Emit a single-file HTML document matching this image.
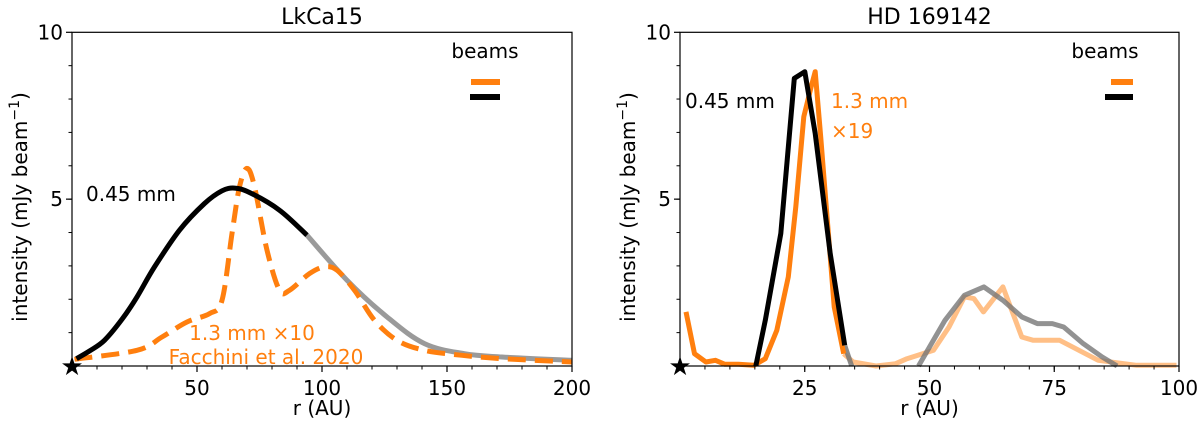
<!DOCTYPE html>
<html><head><meta charset="utf-8"><style>
body{margin:0;background:#fff;}
svg{display:block;font-family:"DejaVu Sans","Liberation Sans",sans-serif;}
</style></head><body>
<svg id="c" width="1200" height="424" xmlns="http://www.w3.org/2000/svg"></svg>
<script>
// LkCa15 data
const lkBlackR=[1.8,7,13,20,26,33,43,53,60,65,71,83,94];
const lkBlackI=[0.22,0.45,0.77,1.4,2.07,2.97,4.07,4.87,5.25,5.33,5.2,4.67,3.92];
const lkGrayR=[94,110,126,141,157,172,200];
const lkGrayI=[3.92,2.57,1.47,0.67,0.37,0.27,0.17];
const lkOrangeR=[1,26,36,46,55,60,64,67,70,73,78,83,87,95,101,106,113,121,130,141,156,172,200];
const lkOrangeI=[0.2,0.47,0.87,1.32,1.57,1.97,3.97,5.37,5.92,5.37,3.47,2.27,2.27,2.77,2.97,2.87,2.27,1.37,0.77,0.47,0.32,0.22,0.12];
// HD 169142 data
const hdBlackR=[15.2,17.1,20.2,22.9,25,27.1,30.1,33];
const hdBlackI=[0,1.37,3.97,8.62,8.82,6.97,3.37,0.62];
const hdGray1R=[33,34.4];
const hdGray1I=[0.62,0];
const hdGray2R=[47.8,53.1,57,60.9,64.7,68.5,71.6,74.6,76.9,80.8,84.6,87.6];
const hdGray2I=[0,1.37,2.12,2.37,1.97,1.47,1.27,1.27,1.17,0.67,0.27,0];
const hdOrangeR=[1.2,2.9,5.2,7.1,9,11.7,14.8,17.1,19.4,21.7,23.2,24.8,26.3,27.1,28.2,30.9,32.8];
const hdOrangeI=[1.62,0.37,0.12,0.17,0.05,0.05,0.02,0.22,1.07,2.67,4.77,7.47,8.37,8.82,6.87,1.77,0.37];
const hdFadeR=[32.8,34.7,39.3,43.2,45.5,50.8,53.9,57,58.9,60.8,64.7,68.5,70.8,76.1,83.8,91.5,99.5];
const hdFadeI=[0.37,0.12,0,0.07,0.22,0.47,1.17,2.07,2.02,1.62,2.37,0.87,0.77,0.77,0.17,0.02,0.02];
const lkTicks=[50,100,150,200];
const hdTicks=[25,50,75,100];
const yTicks=[5,10];

const svg=document.getElementById('c');
const NS='http://www.w3.org/2000/svg';
function mk(tag,attrs,parent){const e=document.createElementNS(NS,tag);for(const k in attrs)e.setAttribute(k,attrs[k]);(parent||svg).appendChild(e);return e;}
function txt(s,attrs,name){const t=mk('text',attrs);t.textContent=s;


return t;}

const Y0=366,Y1=32.3;
function yS(v){return Y0+(Y1-Y0)*v/10;}

function pathD(pts,smooth){
  if(!smooth)return pts.map((p,i)=>(i?'L':'M')+p[0].toFixed(1)+','+p[1].toFixed(1)).join(' ');
  let d='M'+pts[0][0].toFixed(1)+','+pts[0][1].toFixed(1);
  for(let i=0;i<pts.length-1;i++){
    const p0=pts[Math.max(0,i-1)],p1=pts[i],p2=pts[i+1],p3=pts[Math.min(pts.length-1,i+2)];
    const c1=[p1[0]+(p2[0]-p0[0])/6,p1[1]+(p2[1]-p0[1])/6];
    const c2=[p2[0]-(p3[0]-p1[0])/6,p2[1]-(p3[1]-p1[1])/6];
    d+=' C'+c1.map(v=>v.toFixed(1)).join(',')+' '+c2.map(v=>v.toFixed(1)).join(',')+' '+p2.map(v=>v.toFixed(1)).join(',');
  }
  return d;
}

function panel(p){
  const g=mk('g',{});
  
  
  const xS=v=>p.x0+(p.x1-p.x0)*v/p.xmax;
  p.series.forEach(s=>{
    const pts=s.r.map((r,i)=>[xS(r),yS(s.i[i])]);
    const a={d:pathD(pts,p.smooth),fill:'none',stroke:s.c,'stroke-width':s.w||5,'stroke-linejoin':'round',opacity:s.o||1};
    if(s.dash)a['stroke-dasharray']=s.dash;
    const e=mk('path',a,g);
    
    
  });
  const f=mk('rect',{x:p.x0,y:Y1,width:p.x1-p.x0,height:Y0-Y1,fill:'none',stroke:'#000','stroke-width':1.2},g);
  
  
  for(let v=p.minor;v<p.xmax;v+=p.minor){mk('line',{x1:xS(v),x2:xS(v),y1:Y0,y2:Y0+3.5,stroke:'#000','stroke-width':1},g);}
  p.ticks.forEach(v=>{mk('line',{x1:xS(v),x2:xS(v),y1:Y0,y2:Y0+6,stroke:'#000','stroke-width':1.2},g);
    txt(String(v),{x:xS(v),y:Y0+29,'font-size':20,'text-anchor':'middle'},'x-tick-label');});
  for(let v=1;v<10;v++){mk('line',{x1:p.x0,x2:p.x0-3.5,y1:yS(v),y2:yS(v),stroke:'#000','stroke-width':1},g);}
  yTicks.forEach(v=>{mk('line',{x1:p.x0,x2:p.x0-6,y1:yS(v),y2:yS(v),stroke:'#000','stroke-width':1.2},g);
    txt(String(v),{x:p.x0-9,y:yS(v)+7,'font-size':20,'text-anchor':'end'},'y-tick-label');});
  txt('r (AU)',{x:(p.x0+p.x1)/2,y:415,'font-size':20,'text-anchor':'middle'},'x-axis-title');
  const yl=txt('',{x:0,y:0,'font-size':20,'text-anchor':'middle',transform:'translate('+(p.x0-45)+',207) rotate(-90)'},'y-axis-title');
  yl.innerHTML='intensity (mJy beam<tspan dy="-8" font-size="14">−1</tspan><tspan dy="8">)</tspan>';
  txt(p.title,{x:(p.x0+p.x1)/2,y:24,'font-size':22,'text-anchor':'middle'},'panel-title');
  txt('★',{x:p.x0,y:Y0+9,'font-size':26,'text-anchor':'middle'},'origin-star');
  txt('beams',{x:p.legX,y:58,'font-size':20,'text-anchor':'middle'},'legend-title');
  const lo=mk('line',{x1:p.legO[0],x2:p.legO[1],y1:82,y2:82,stroke:'#ff7f0e','stroke-width':6});
  
  
  const lb=mk('line',{x1:p.legB[0],x2:p.legB[1],y1:97,y2:97,stroke:'#000','stroke-width':6});
  
  
}

panel({name:'lkca15-panel',title:'LkCa15',x0:72,x1:572,xmax:200,minor:10,ticks:lkTicks,legX:485,legO:[471,500],legB:[470,500],smooth:true,
  series:[
    {name:'lkca15-045mm-faded',r:lkGrayR,i:lkGrayI,c:'#888',o:0.85},
    {name:'lkca15-13mm-dashed',r:lkOrangeR,i:lkOrangeI,c:'#ff7f0e',dash:'18,9'},
    {name:'lkca15-045mm',r:lkBlackR,i:lkBlackI,c:'#000'}
  ]});
panel({name:'hd169142-panel',title:'HD 169142',x0:680,x1:1179,xmax:100,minor:5,ticks:hdTicks,legX:1105,legO:[1111,1133],legB:[1105,1133],smooth:false,
  series:[
    {name:'hd-13mm-faded',r:hdFadeR,i:hdFadeI,c:'#ffbf86',o:1},
    {name:'hd-045mm-faded-1',r:hdGray1R,i:hdGray1I,c:'#777',o:0.85},
    {name:'hd-045mm-faded-2',r:hdGray2R,i:hdGray2I,c:'#777',o:0.8},
    {name:'hd-13mm',r:hdOrangeR,i:hdOrangeI,c:'#ff7f0e'},
    {name:'hd-045mm',r:hdBlackR,i:hdBlackI,c:'#000'}
  ]});

txt('0.45 mm',{x:86,y:201,'font-size':20},'label-045mm');
txt('1.3 mm ×10',{x:252,y:340,'font-size':20,fill:'#ff7f0e','text-anchor':'middle'},'label-13mm');
txt('Facchini et al. 2020',{x:266,y:364,'font-size':20,fill:'#ff7f0e','text-anchor':'middle'},'label-reference');
txt('0.45 mm',{x:685,y:108,'font-size':20},'label-045mm-hd');
txt('1.3 mm',{x:831,y:108,'font-size':20,fill:'#ff7f0e'},'label-13mm-hd');
txt('×19',{x:831,y:138,'font-size':20,fill:'#ff7f0e'},'label-scale-hd');
</script>
</body></html>
